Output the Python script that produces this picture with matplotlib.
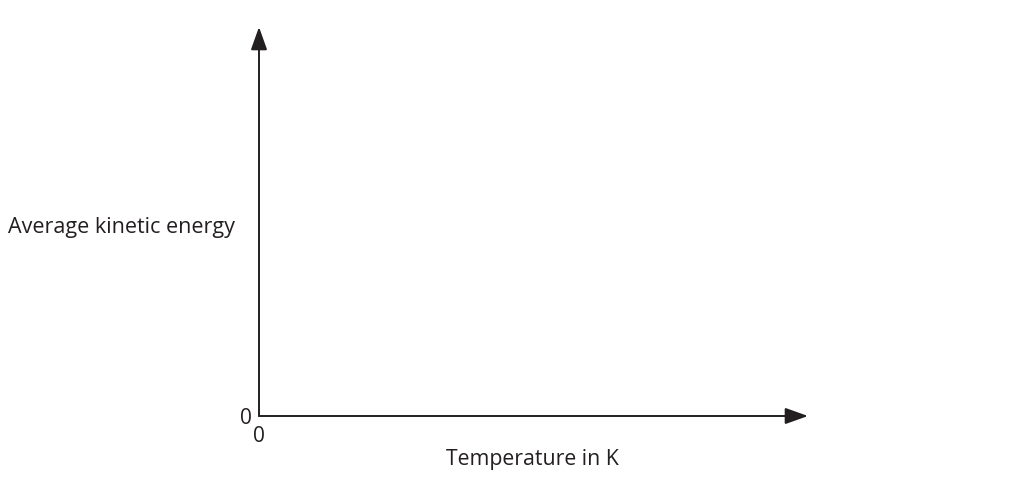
import matplotlib
matplotlib.use("Agg")
import matplotlib.pyplot as plt

# chart content (blank axes sketch)
x_label = "Temperature in K"
y_label = "Average kinetic energy"
x_ticks = [0]
x_tick_labels = ["0"]
y_ticks = [0]
y_tick_labels = ["0"]

plt.rcParams['font.family'] = ['Open Sans', 'DejaVu Sans']
ink = '#231f20'

W, H = 1024, 500
fig = plt.figure(figsize=(W / 100, H / 100), dpi=100)

# origin at (259, 416) px, arrow tips at x=808 and y=27
x0, y0 = 259, 416
x1, y1 = 808, 27
ax = fig.add_axes([x0 / W, 1 - y0 / H, (x1 - x0) / W, (y0 - y1) / H])
ax.set_xlim(0, 1)
ax.set_ylim(0, 1)
for s in ax.spines.values():
    s.set_visible(False)

arrow = dict(arrowstyle='-|>,head_length=1.4,head_width=0.5', color=ink,
             lw=1.4, shrinkA=0, shrinkB=0, mutation_scale=10)
ax.annotate('', xy=(1, 0), xytext=(0, 0), arrowprops=arrow, annotation_clip=False)
ax.annotate('', xy=(0, 1), xytext=(0, 0), arrowprops=arrow, annotation_clip=False)

ax.set_xticks(x_ticks)
ax.set_xticklabels(x_tick_labels, fontsize=15, color=ink)
ax.set_yticks(y_ticks)
ax.set_yticklabels(y_tick_labels, fontsize=15, color=ink)
ax.tick_params(length=0)
ax.tick_params(axis='x', pad=7)
ax.tick_params(axis='y', pad=5)

fig.text(8 / W, 1 - 228 / H, y_label, fontsize=15.5, color=ink, ha='left', va='center')
fig.text(532 / W, 1 - 459 / H, x_label, fontsize=15.3, color=ink, ha='center', va='center')

fig.savefig("out.png", dpi=100)
